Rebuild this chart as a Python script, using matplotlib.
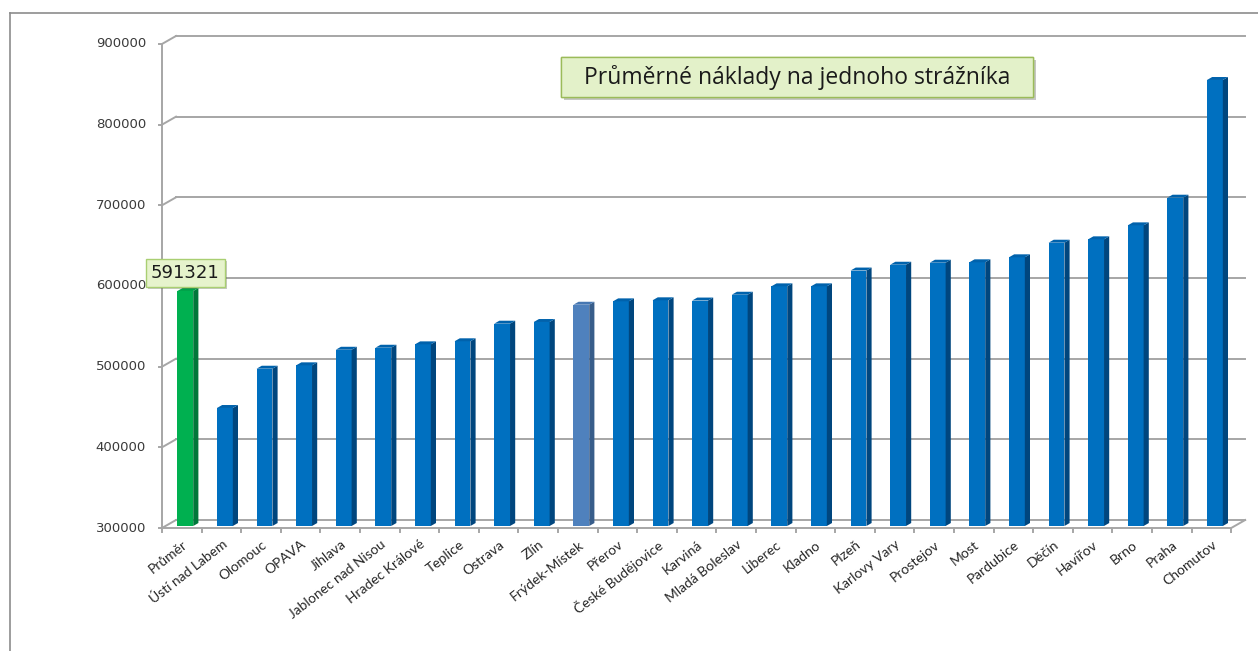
import matplotlib.pyplot as plt
import matplotlib.patheffects as pe
from matplotlib.patches import Rectangle
from matplotlib.transforms import offset_copy

# data
mesta = ["Průměr", "Ústí nad Labem", "Olomouc", "OPAVA", "Jihlava", "Jablonec nad Nisou",
         "Hradec Králové", "Teplice", "Ostrava", "Zlín", "Frýdek-Místek", "Přerov",
         "České Budějovice", "Karviná", "Mladá Boleslav", "Liberec", "Kladno", "Plzeň",
         "Karlovy Vary", "Prostejov", "Most", "Pardubice", "Děčín", "Havířov", "Brno",
         "Praha", "Chomutov"]
naklady = [591321, 446300, 495000, 499200, 518500, 521000, 525200, 529000, 550800,
           552900, 574300, 578500, 579800, 579500, 586700, 597100, 597100, 616700,
           623900, 626400, 626900, 633100, 651200, 655400, 672700, 707000, 852900]
y_ticks = [300000, 400000, 500000, 600000, 700000, 800000, 900000]
prumer_label = "591321"
titulek = "Průměrné náklady na jednoho strážníka"

W, H = 1258, 651
fig = plt.figure(figsize=(W / 100, H / 100), dpi=100)

# frame of the chart area (screenshot is cropped on the right/bottom)
fig.add_artist(plt.Line2D([10 / W, 10 / W], [0, 1 - 12.5 / H], color="#8c8c8c", lw=1.2))
fig.add_artist(plt.Line2D([10 / W, 1], [1 - 12.5 / H, 1 - 12.5 / H], color="#8c8c8c", lw=1.2))

CAT_W = 39.6      # px per category
PX100K = 80.67    # px per 100000
X0, YB = 162, 528
n = len(mesta)

ax = fig.add_axes([X0 / W, 1 - YB / H, 27.6 * CAT_W / W, 6.1 * PX100K / H])
ax.set_xlim(0, 27.6)
ax.set_ylim(300000, 910000)
ax.axis("off")

DX = 14 / CAT_W
DY = 8 / PX100K * 100000
grid_c = "#a6a6a6"
ymin = y_ticks[0]

# back wall gridlines + side connectors + tick marks
for t in y_ticks:
    ax.plot([DX, n + DX], [t + DY, t + DY], color=grid_c, lw=1.4, clip_on=False, zorder=1)
    ax.plot([0, DX], [t, t + DY], color=grid_c, lw=1.4, clip_on=False, zorder=1)
    ax.plot([-3 / CAT_W, 0], [t, t], color=grid_c, lw=1.4, clip_on=False, zorder=1)
    ax.text(0, t, str(t), transform=offset_copy(ax.transData, fig, x=-16, y=0, units="dots"),
            ha="right", va="center", fontsize=9.5, color="#3a3a3a", family="DejaVu Sans")

ax.plot([0, 0], [ymin, y_ticks[-1]], color=grid_c, lw=1.4, clip_on=False, zorder=1)
ax.plot([0, n], [ymin, ymin], color=grid_c, lw=1.4, clip_on=False, zorder=4)
ax.plot([n, n + DX], [ymin, ymin + DY], color=grid_c, lw=1.4, clip_on=False, zorder=1)
tick_len = 4 / PX100K * 100000
for i in range(n + 1):
    ax.plot([i, i], [ymin, ymin - tick_len], color=grid_c, lw=1.4, clip_on=False, zorder=4)

# 3D-like columns
f1, f2 = 0.25, 0.62
half = 0.2
for i, v in enumerate(naklady):
    if i == 0:
        c_front, c_side, c_top = "#00b050", "#00773a", "#00a349"
    elif mesta[i] == "Frýdek-Místek":
        c_front, c_side, c_top = "#4f81bd", "#385d8a", "#4677b2"
    else:
        c_front, c_side, c_top = "#0070c0", "#00467e", "#0062ac"
    x0, x1 = i + 0.5 - half, i + 0.5 + half
    b1, b2 = ymin + f1 * DY, ymin + f2 * DY
    t1, t2 = v + f1 * DY, v + f2 * DY
    ax.fill([x0 + f1 * DX, x1 + f1 * DX, x1 + f1 * DX, x0 + f1 * DX], [b1, b1, t1, t1],
            color=c_front, lw=0, zorder=3)
    ax.fill([x1 + f1 * DX, x1 + f2 * DX, x1 + f2 * DX, x1 + f1 * DX], [b1, b2, t2, t1],
            color=c_side, lw=0, zorder=3)
    ax.fill([x0 + f1 * DX, x1 + f1 * DX, x1 + f2 * DX, x0 + f2 * DX], [t1, t1, t2, t2],
            color=c_top, lw=0, zorder=3)

    ax.text(i + 0.5, ymin, mesta[i],
            transform=offset_copy(ax.transData, fig, x=4, y=-15, units="dots"),
            rotation=38, rotation_mode="anchor", ha="right", va="center",
            fontsize=10, color="#262626", family="Lato")

# data label of the average
lbl = ax.text(0.5 + f1 * DX, naklady[0] + f1 * DY, prumer_label,
              transform=offset_copy(ax.transData, fig, x=0, y=18, units="dots"),
              ha="center", va="center", fontsize=13, color="#1a1a1a", family="DejaVu Sans",
              zorder=6,
              bbox=dict(boxstyle="square,pad=0.3", fc="#e6f3cc", ec="#a9cf72", lw=1))
lbl.get_bbox_patch().set_path_effects([pe.withSimplePatchShadow(offset=(1.5, -1.5), alpha=0.3)])

# title box
box = Rectangle((561 / W, 1 - 97 / H), 472 / W, 40 / H, transform=fig.transFigure,
                fc="#e3f1c9", ec="#9bbb59", lw=1)
box.set_path_effects([pe.withSimplePatchShadow(offset=(2, -2), alpha=0.3), pe.Normal()])
fig.add_artist(box)
fig.text(797 / W, 1 - 77 / H, titulek, ha="center", va="center", fontsize=16.5,
         family="Open Sans", color="#1a1a1a")

fig.savefig("out.png", dpi=100, facecolor="white")
